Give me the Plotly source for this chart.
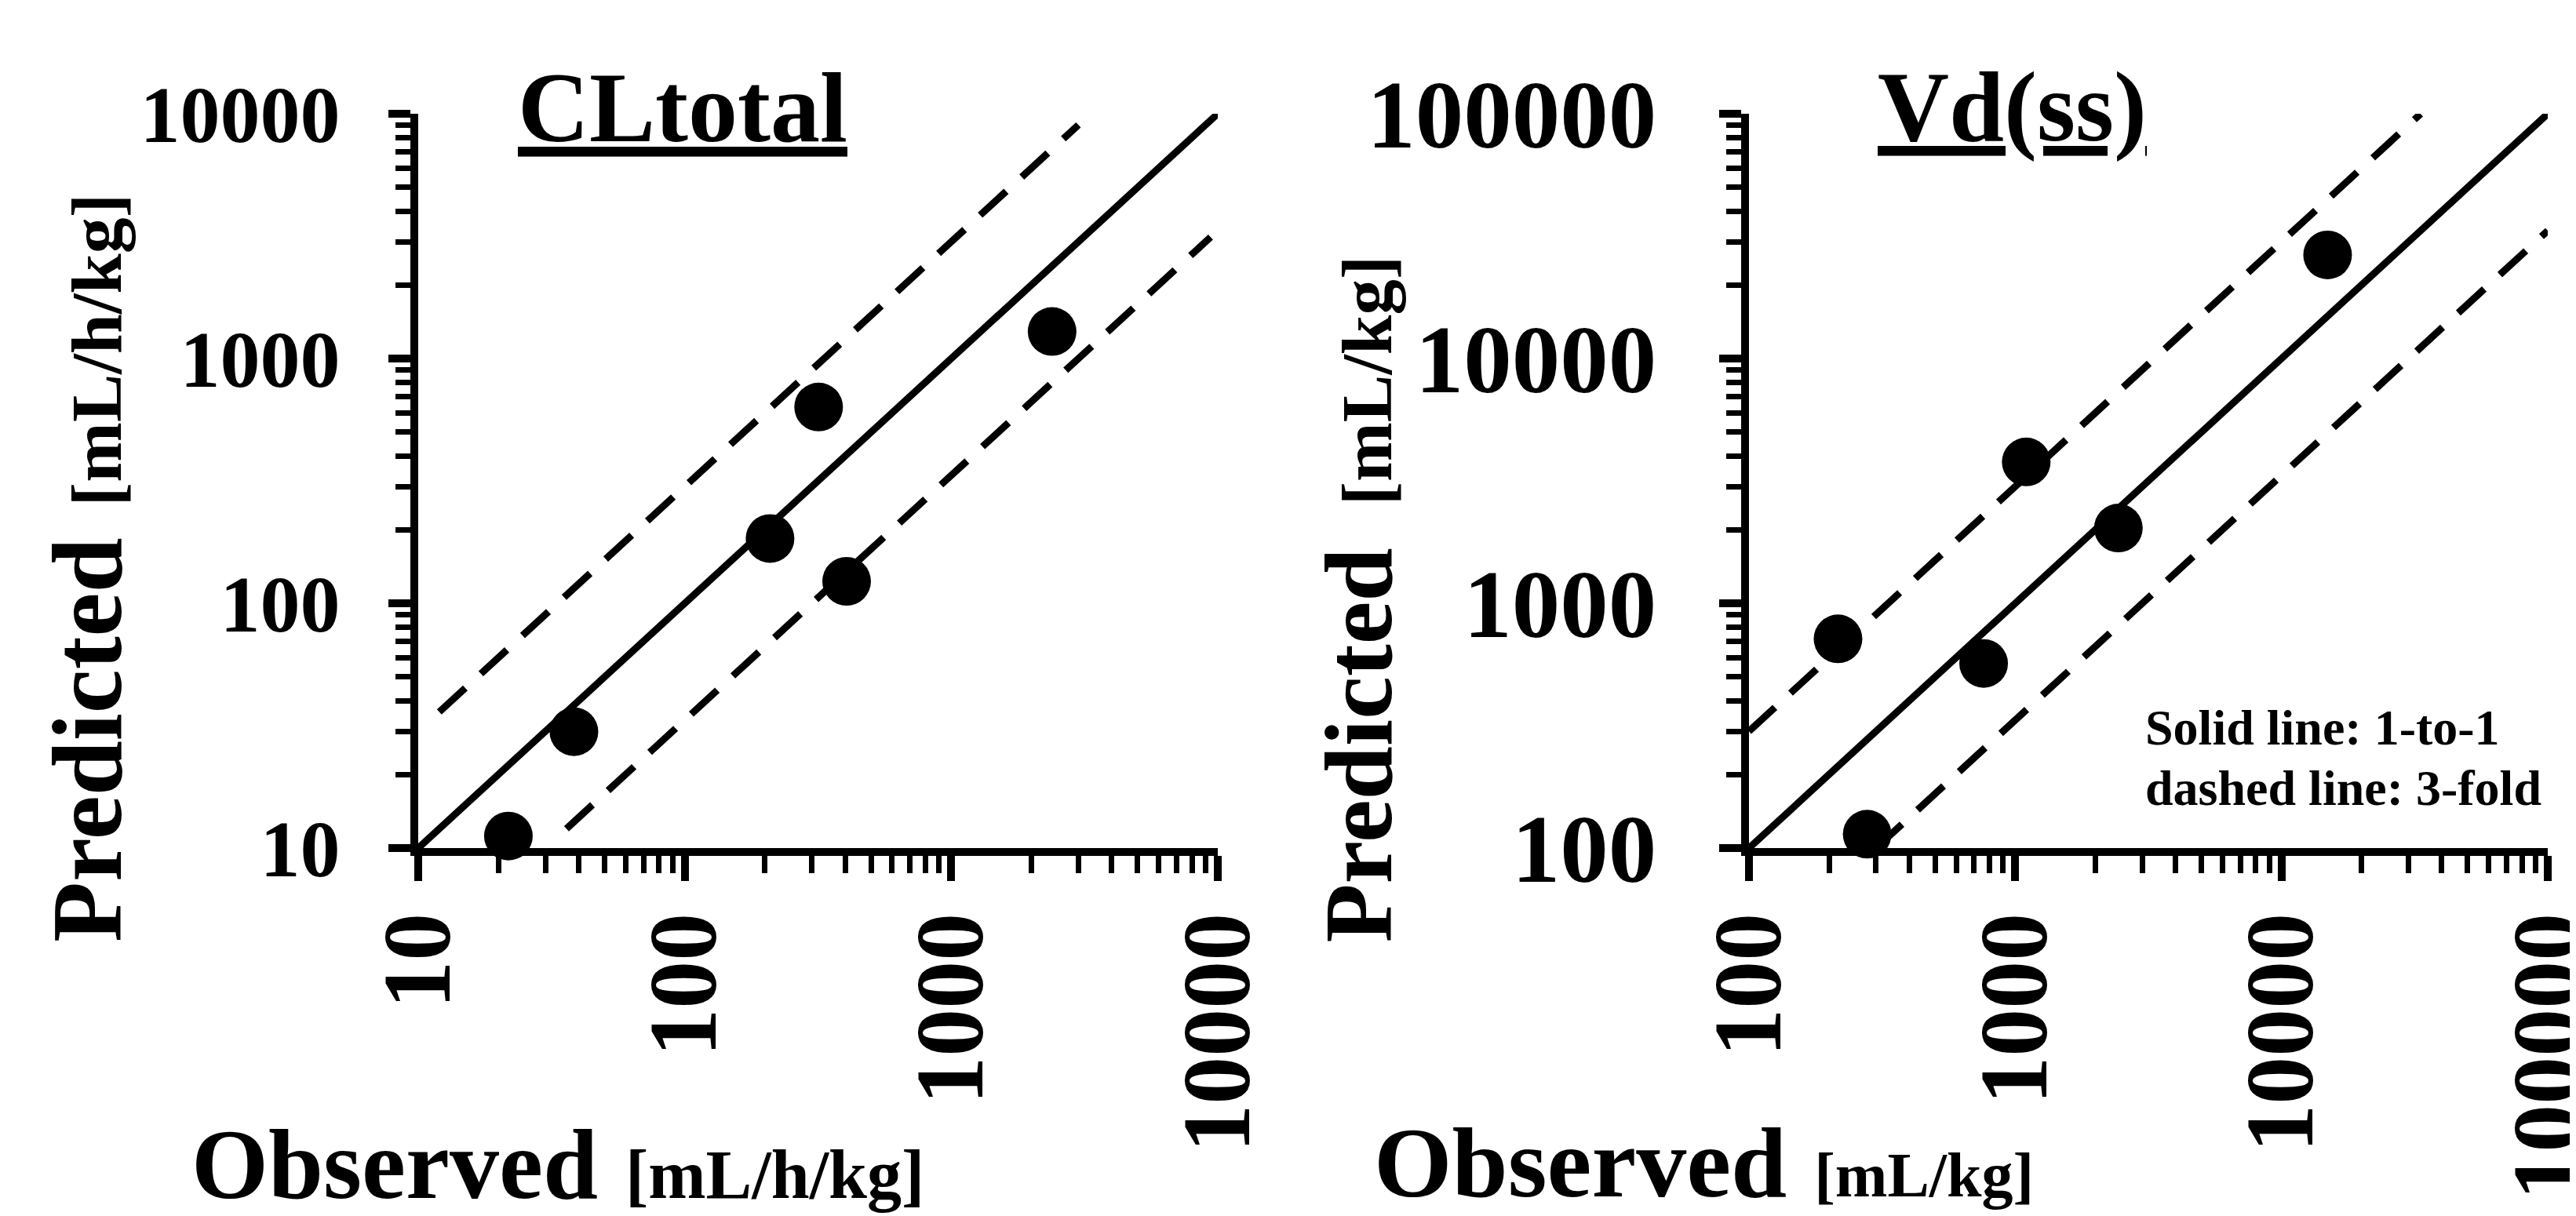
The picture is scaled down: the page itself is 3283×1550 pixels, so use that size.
import plotly.graph_objects as go

FONT = "Liberation Serif, Times New Roman, serif"
W, H = 3283, 1550

# ---------------- data ----------------
# CLtotal panel (observed vs predicted, mL/h/kg)
cl_observed = [21.8, 38.4, 209, 318, 405, 2390]
cl_predicted = [11.2, 29.9, 184, 634, 123, 1290]

# Vd(ss) panel (observed vs predicted, mL/kg)
vd_observed = [216, 278, 761, 1100, 2440, 14900]
vd_predicted = [716, 114, 568, 3780, 2030, 26500]

# reference lines: 1-to-1 (solid) and 3-fold (dashed)
cl_unity_x = [10, 10000]
cl_unity_y = [10, 10000]
cl_upper_x = [12, 3000]
cl_upper_y = [36, 9000]
cl_lower_x = [36, 9400]
cl_lower_y = [12, 3133]

vd_unity_x = [100, 100000]
vd_unity_y = [100, 100000]
vd_upper_x = [100, 33300]
vd_upper_y = [300, 99900]
vd_lower_x = [300, 100000]
vd_lower_y = [100, 33300]

cl_ticks = [10, 100, 1000, 10000]
cl_ticktext = ["10", "100", "1000", "10000"]
vd_ticks = [100, 1000, 10000, 100000]
vd_ticktext = ["100", "1000", "10000", "100000"]

cl_minor = [m * 10 ** e for e in range(1, 4) for m in range(2, 10)]
vd_minor = [m * 10 ** e for e in range(2, 5) for m in range(2, 10)]

fig = go.Figure()


def add_panel(xa, ya, obs, pred, ux, uy, upx, upy, lox, loy):
    common = dict(xaxis=xa, yaxis=ya, showlegend=False, hoverinfo="skip", cliponaxis=False)
    fig.add_trace(go.Scatter(x=ux, y=uy, mode="lines",
                             line=dict(color="black", width=9), **common))
    for lx, ly in ((upx, upy), (lox, loy)):
        fig.add_trace(go.Scatter(x=lx, y=ly, mode="lines",
                                 line=dict(color="black", width=9, dash="45px,27px"), **common))
    fig.add_trace(go.Scatter(x=obs, y=pred, mode="markers",
                             marker=dict(color="black", size=62, line=dict(width=0)), **common))


add_panel("x", "y", cl_observed, cl_predicted, cl_unity_x, cl_unity_y,
          cl_upper_x, cl_upper_y, cl_lower_x, cl_lower_y)
add_panel("x2", "y2", vd_observed, vd_predicted, vd_unity_x, vd_unity_y,
          vd_upper_x, vd_upper_y, vd_lower_x, vd_lower_y)


def axis(rng, tickvals, ticktext, minorvals, fontsize, ticklen, minorlen, domain, anchor,
         standoff, angle=None):
    d = dict(type="log", range=rng, domain=domain, anchor=anchor, automargin=False,
             showline=True, linewidth=10, linecolor="black",
             ticks="outside", ticklen=ticklen, tickwidth=10, tickcolor="black",
             tickmode="array", tickvals=tickvals, ticktext=ticktext,
             tickfont=dict(family=FONT, size=fontsize, color="black", weight="bold"),
             minor=dict(tickmode="array", tickvals=minorvals, ticks="outside",
                        ticklen=minorlen, tickwidth=7, tickcolor="black", showgrid=False),
             showgrid=False, zeroline=False, ticklabelstandoff=standoff,
             ticklabeloverflow="allow")
    if angle is not None:
        d["tickangle"] = angle
    return d


ydom = [0.3077, 0.9116]
fig.update_layout(
    template="none",
    width=W, height=H,
    margin=dict(l=0, r=0, t=0, b=0, autoexpand=False),
    paper_bgcolor="white", plot_bgcolor="white",
    showlegend=False,
    xaxis=axis([1, 4], cl_ticks, cl_ticktext, cl_minor, 122, 32, 22,
               [0.1599, 0.4703], "y", -8, angle=-90),
    yaxis=axis([1, 4], cl_ticks, cl_ticktext, cl_minor, 102, 28, 19,
               ydom, "x", 41),
    xaxis2=axis([2, 5], vd_ticks, vd_ticktext, vd_minor, 122, 32, 22,
                [0.6765, 0.9866], "y2", -8, angle=-90),
    yaxis2=axis([2, 5], vd_ticks, vd_ticktext, vd_minor, 123, 28, 19,
                ydom, "x2", 55),
)


def title_text(main, unit, big, small, gap):
    return (f"<b><span style='font-size:{big}px'>{main}</span>"
            f"<span style='font-size:{gap}px'>\u2002</span>"
            f"<span style='font-size:{small}px'>{unit}</span></b>")


UL = "text-decoration:underline;text-decoration-skip-ink:none"

ann = [
    # panel titles
    dict(text=f"<b><span style='{UL}'>CLtotal</span></b>", x=862 / W, y=0.9165, size=126),
    dict(text=f"<b><span style='{UL}'>Vd(ss)</span></b>", x=2556 / W, y=0.9165, size=126),
    # axis titles
    dict(text=title_text("Predicted", "[mL/h/kg]", 126, 92, 80), x=0.0315, y=0.5384,
         angle=-90, size=126),
    dict(text=title_text("Observed", "[mL/h/kg]", 126, 88, 70), x=703 / W, y=0.0475,
         size=126),
    dict(text=title_text("Predicted", "[mL/kg]", 123, 91, 108), x=0.5250, y=0.5123,
         angle=-90, size=123),
    dict(text=title_text("Observed", "[mL/kg]", 128, 80, 70), x=2163 / W, y=0.0490,
         size=128),
]
annotations = []
for a in ann:
    annotations.append(dict(
        text=a["text"], x=a["x"], y=a["y"], xref="paper", yref="paper",
        xanchor="center", yanchor="middle", showarrow=False,
        textangle=a.get("angle", 0),
        font=dict(family=FONT, size=a["size"], color="black")))

# key text in right panel
for txt, yy in (("<b>Solid line: 1-to-1</b>", 0.4065), ("<b>dashed line: 3-fold</b>", 0.3574)):
    annotations.append(dict(
        text=txt, x=2724 / W, y=yy, xref="paper", yref="paper",
        xanchor="left", yanchor="middle", showarrow=False,
        font=dict(family=FONT, size=64, color="black")))

fig.update_layout(annotations=annotations)
fig.write_html("out.html")
